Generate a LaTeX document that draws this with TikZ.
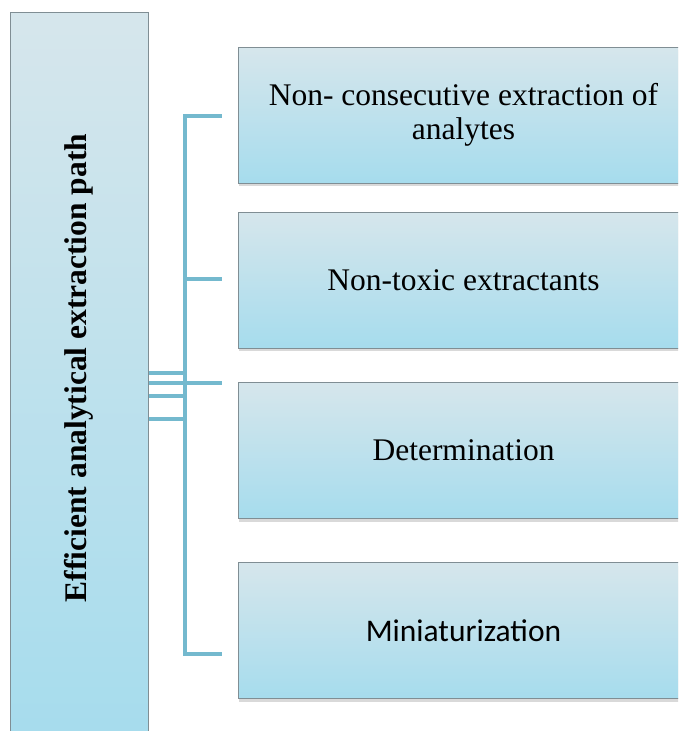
\documentclass[tikz,border=0pt]{standalone}
\usepackage{fontspec}
\setmainfont{Liberation Serif}
\newfontfamily\calibrifont{Carlito}
\usetikzlibrary{shadows}
\definecolor{boxtop}{RGB}{214,230,236}
\definecolor{boxbottom}{RGB}{166,220,237}
\definecolor{boxedge}{RGB}{128,142,148}
\definecolor{bracketblue}{RGB}{116,185,206}
\begin{document}
\begin{tikzpicture}[x=1pt,y=-1pt,
    pathbox/.style={draw=boxedge,line width=1pt,top color=boxtop,bottom color=boxbottom,
      drop shadow={shadow xshift=1pt,shadow yshift=-3pt,opacity=0.25,fill=black!60},
      inner sep=0pt},
    stepbox/.style={pathbox,minimum width=451pt,minimum height=136pt,align=center,
      font=\fontsize{31.5}{34}\selectfont},
    bracket/.style={draw=bracketblue,line width=4.5pt}]
	\useasboundingbox (0,0) rectangle (678,731);
	\clip (0,0) rectangle (678,731);
	% left box
	\node[pathbox,minimum width=138pt,minimum height=728pt] (path) at (79,376) {};
	\node[rotate=90,font=\fontsize{31.5}{34}\selectfont\bfseries] (pathtext) at (79,368) {Efficient analytical extraction path};
	% right boxes
	\node[stepbox] (consec) at (463.5,115) {Non- consecutive extraction of\\analytes};
	\node[stepbox] (toxic) at (463.5,280) {Non-toxic extractants};
	\node[stepbox] (determ) at (463.5,450.5) {Determination};
	\node[stepbox,font=\fontsize{31.5}{34}\selectfont\calibrifont] (mini) at (463.5,630.5) {Miniaturization};
	% bracket
	\coordinate (btop) at (185,116);
	\coordinate (bbot) at (185,654);
	\coordinate (bmid) at (185,383);
	\draw[bracket,line cap=rect] (btop) -- (bbot);
	\draw[bracket] (btop) -- ([xshift=-16pt]consec.west|-btop);
	\draw[bracket] (185,279) -- ([xshift=-16pt]toxic.west|-185,279);
	\draw[bracket] (bmid) -- ([xshift=-16pt]determ.west|-bmid);
	\draw[bracket] (bbot) -- ([xshift=-16pt]mini.west|-bbot);
	\foreach \y in {373,383,396,419}
		\draw[bracket] (path.east|-0,\y) -- (185,\y);
\end{tikzpicture}
\end{document}
